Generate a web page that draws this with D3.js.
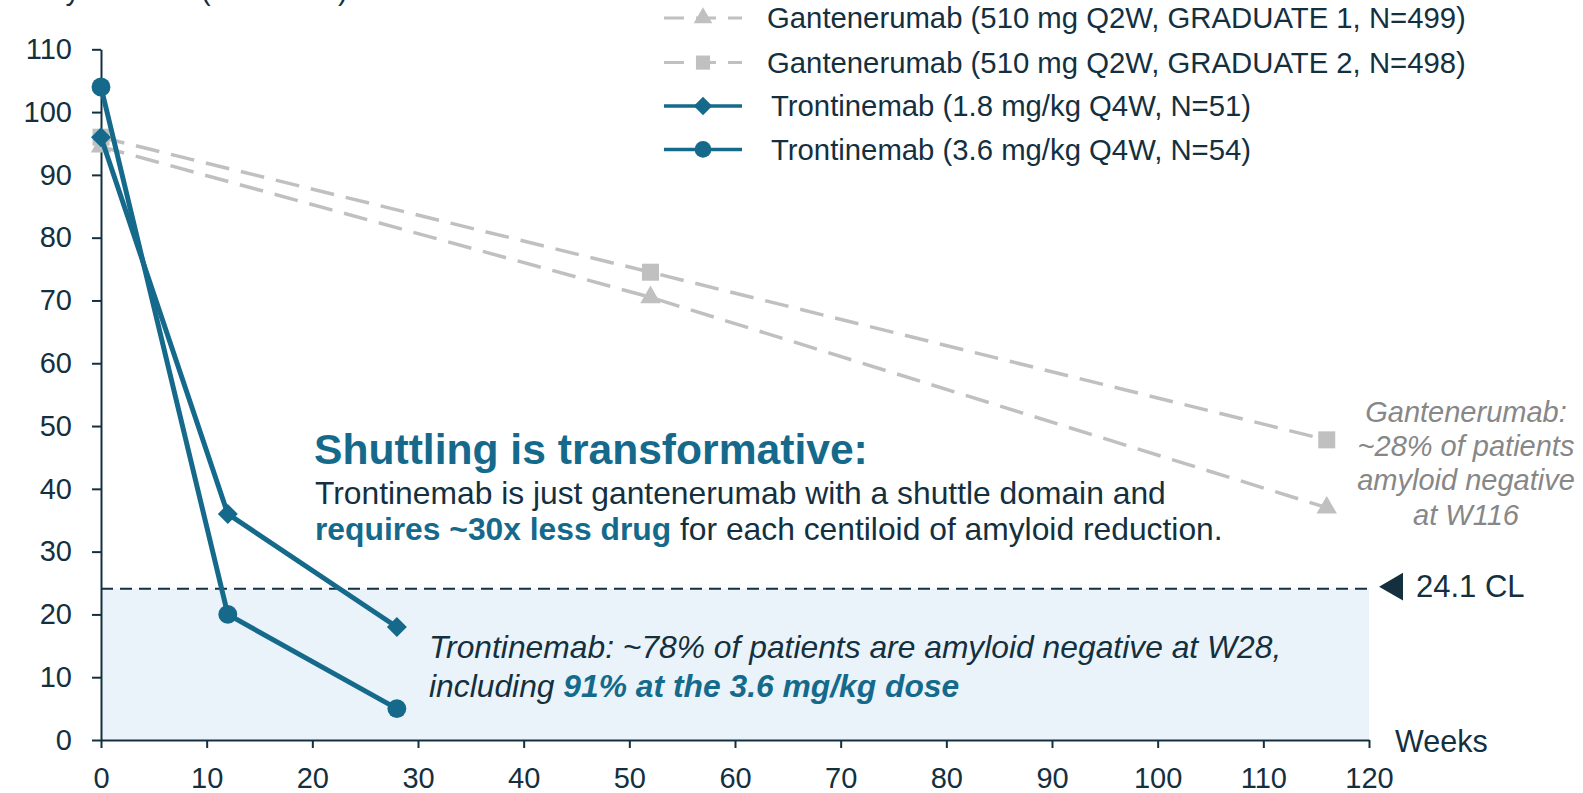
<!DOCTYPE html>
<html><head><meta charset="utf-8">
<script src="https://cdn.jsdelivr.net/npm/d3@7"></script>
<style>
body{margin:0;background:#fff}
svg{display:block}
text{font-family:"Liberation Sans",Arial,Helvetica,sans-serif}
</style>
</head><body>
<svg id="c" width="1583" height="793"></svg>
<script>
// ---- data ----
const yAxisTitle = "Amyloid level (Centiloids)";
const xAxisTitle = "Weeks";
const xTicks = [0,10,20,30,40,50,60,70,80,90,100,110,120];
const yTicks = [0,10,20,30,40,50,60,70,80,90,100,110];
const weeksG1 = [0,52,116];
const valuesG1 = [94.5,70.5,37];
const weeksG2 = [0,52,116];
const valuesG2 = [96,74.5,47.8];
const weeksT18 = [0,12,28];
const valuesT18 = [96,36,18];
const weeksT36 = [0,12,28];
const valuesT36 = [104,20,5];
const threshold = 24.1;
const thresholdLabel = "24.1 CL";
const legendLabels = [
  "Gantenerumab (510 mg Q2W, GRADUATE 1, N=499)",
  "Gantenerumab (510 mg Q2W, GRADUATE 2, N=498)",
  "Trontinemab (1.8 mg/kg Q4W, N=51)",
  "Trontinemab (3.6 mg/kg Q4W, N=54)"
];
const gantAnnot = ["Gantenerumab:","~28% of patients","amyloid negative","at W116"];

// ---- styles ----
const TEAL = "#156a8c", GRAY = "#c0c0c0", NAVY = "#14303f", FILL = "#eaf3f9", ANNOT_GRAY = "#878787";

const svg = d3.select("#c");
const x = d3.scaleLinear().domain([0,120]).range([101,1369]);
const y = d3.scaleLinear().domain([0,110]).range([740,49.3]);

// y-axis title (cut off at the top edge, as in the source)
svg.append("text").attr("x",22).attr("y",0).attr("font-size",29).attr("fill",NAVY).text(yAxisTitle);

// shaded region below threshold
svg.append("rect")
  .attr("x",x(0)).attr("y",y(threshold))
  .attr("width",x(120)-x(0)).attr("height",y(0)-y(threshold))
  .attr("fill",FILL);

// threshold dashed line
svg.append("line")
  .attr("x1",x(0)).attr("x2",x(120)).attr("y1",y(threshold)).attr("y2",y(threshold))
  .attr("stroke",NAVY).attr("stroke-width",2).attr("stroke-dasharray","12,7");

// axes
const yAxis = svg.append("g").attr("transform",`translate(${x(0)},0)`)
  .call(d3.axisLeft(y).tickValues(yTicks).tickSize(9).tickSizeOuter(0).tickPadding(20));
const xAxis = svg.append("g").attr("transform",`translate(0,${y(0)})`)
  .call(d3.axisBottom(x).tickValues(xTicks).tickSize(8).tickSizeOuter(0).tickPadding(19));
[yAxis,xAxis].forEach(g=>{
  g.selectAll("path,line").attr("stroke",NAVY).attr("stroke-width",2);
  g.selectAll("text").attr("font-size",29).attr("fill",NAVY)
    .style("font-family",'"Liberation Sans",Arial,sans-serif');
});
svg.append("text").attr("x",1395).attr("y",752).attr("font-size",30.5).attr("fill",NAVY).text(xAxisTitle);

// series
const series = [
  {w:weeksG1, v:valuesG1, color:GRAY, dash:"24,12", width:3.5, sym:d3.symbolTriangle, size:180, rot:0},
  {w:weeksG2, v:valuesG2, color:GRAY, dash:"24,12", width:3.5, sym:d3.symbolSquare, size:290, rot:0},
  {w:weeksT18, v:valuesT18, color:TEAL, dash:null, width:5, sym:d3.symbolSquare, size:200, rot:45},
  {w:weeksT36, v:valuesT36, color:TEAL, dash:null, width:5, sym:d3.symbolCircle, size:280, rot:0}
];
const line = d3.line().x(d=>x(d[0])).y(d=>y(d[1]));
series.forEach(s=>{
  const pts = s.w.map((w,i)=>[w,s.v[i]]);
  svg.append("path").attr("d",line(pts)).attr("fill","none")
    .attr("stroke",s.color).attr("stroke-width",s.width)
    .attr("stroke-dasharray",s.dash).attr("stroke-linejoin","round");
  svg.selectAll(null).data(pts).enter().append("path")
    .attr("d",d3.symbol().type(s.sym).size(s.size))
    .attr("transform",d=>`translate(${x(d[0])},${y(d[1])}) rotate(${s.rot})`)
    .attr("fill",s.color);
});

// legend
const legRows = [18,62.6,106,149.4];
const legTextX = [767,767,771,771];
const legSizes = [150,200,170,220];
series.forEach((s,i)=>{
  const ly = legRows[i];
  const g = svg.append("g");
  g.append("line").attr("x1",664).attr("x2",742).attr("y1",ly).attr("y2",ly)
    .attr("stroke",s.color).attr("stroke-width",s.dash?3:3.5)
    .attr("stroke-dasharray",s.dash?"20,12":null);
  g.append("path").attr("d",d3.symbol().type(s.sym).size(legSizes[i]))
    .attr("transform",`translate(703,${ly}) rotate(${s.rot})`).attr("fill",s.color);
  g.append("text").attr("x",legTextX[i]).attr("y",ly+10.4).attr("font-size",29.3)
    .attr("fill",NAVY).text(legendLabels[i]);
});

// Gantenerumab annotation
gantAnnot.forEach((t,i)=>{
  svg.append("text").attr("x",1466).attr("y",421.5+i*34.4).attr("text-anchor","middle")
    .attr("font-size",29).attr("font-style","italic").attr("fill",ANNOT_GRAY).text(t);
});

// threshold label
svg.append("path").attr("d",d3.symbol().type(d3.symbolTriangle).size(330))
  .attr("transform",`translate(1395,${y(threshold)-2}) rotate(-90)`).attr("fill",NAVY);
svg.append("text").attr("x",1416).attr("y",y(threshold)+8.5).attr("font-size",31)
  .attr("fill",NAVY).text(thresholdLabel);

// central message
svg.append("text").attr("x",314).attr("y",464).attr("font-size",42.6).attr("font-weight","bold")
  .attr("fill",TEAL).text("Shuttling is transformative:");
svg.append("text").attr("x",315).attr("y",504).attr("font-size",31.8).attr("fill",NAVY)
  .text("Trontinemab is just gantenerumab with a shuttle domain and");
const t2 = svg.append("text").attr("x",315).attr("y",540).attr("font-size",31.8).attr("fill",NAVY);
t2.append("tspan").attr("font-weight","bold").attr("fill",TEAL).text("requires ~30x less drug");
t2.append("tspan").text(" for each centiloid of amyloid reduction.");

// trontinemab annotation
svg.append("text").attr("x",429).attr("y",658).attr("font-size",31.8).attr("font-style","italic")
  .attr("fill",NAVY).text("Trontinemab: ~78% of patients are amyloid negative at W28,");
const t3 = svg.append("text").attr("x",429).attr("y",697).attr("font-size",31.8)
  .attr("font-style","italic").attr("fill",NAVY);
t3.append("tspan").text("including ");
t3.append("tspan").attr("font-weight","bold").attr("fill",TEAL).text("91% at the 3.6 mg/kg dose");
</script>
</body></html>
